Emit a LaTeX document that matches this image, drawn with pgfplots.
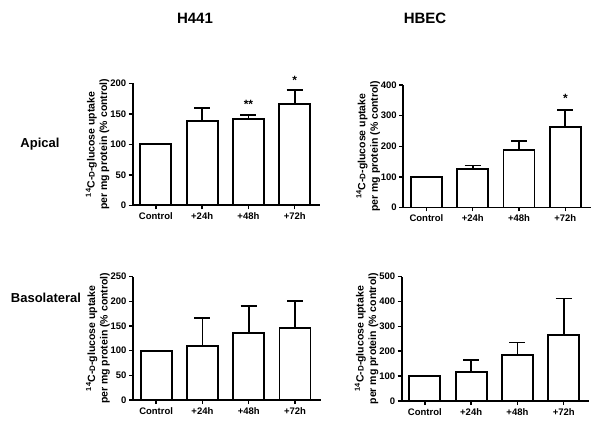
\documentclass[border=0pt]{standalone}
\usepackage{pgfplots}
\pgfplotsset{compat=1.18}
\usepackage{fontspec}
\setmainfont{Liberation Sans}

\pgfplotsset{
  gp/.style={
    scale only axis, width=187.5pt, anchor=south west,
    xmin=-0.5, xmax=3.55, ymin=0,
    axis x line=bottom, axis y line=left,
    axis line style={-, line width=1.7pt},
    xtick={0,1,2,3}, xticklabels={Control,+24h,+48h,+72h},
    tick align=outside, major tick length=4pt,
    tick style={line width=1.5pt, black},
    ticklabel style={font=\bfseries\fontsize{9.5}{10}\selectfont},
    yticklabel style={xshift=1pt},
    /pgf/number format/assume math mode=true,
    ylabel={\textsuperscript{14}C-{\fontsize{8}{8}\selectfont D}-glucose uptake\\per mg protein (\% control)},
    ylabel style={align=center, font=\bfseries\fontsize{10.5}{12.5}\selectfont, yshift=-6pt},
    ybar, bar width=0.67, bar shift=0pt,
    clip=false,
  },
  gpbar/.style={draw=black, fill=white, line width=1.8pt,
    error bars/.cd, y dir=plus, y explicit,
    error bar style={line width=1.8pt},
    error mark options={rotate=90, mark size=8pt, line width=1.8pt}},
}

\begin{document}
\begin{tikzpicture}
\useasboundingbox (0,0) rectangle (600pt,426pt);

\node[font=\bfseries\fontsize{15}{15}\selectfont] at (195pt,408pt) {H441};
\node[font=\bfseries\fontsize{15}{15}\selectfont] at (425pt,408pt) {HBEC};
\node[font=\bfseries\fontsize{13}{13}\selectfont] at (40pt,282pt) {Apical};
\node[font=\bfseries\fontsize{13}{13}\selectfont] at (46pt,128pt) {Basolateral};

% H441 apical
\begin{axis}[gp, at={(132.7pt,220.7pt)}, height=122pt, ymax=200, ytick={0,50,...,200}]
\addplot[gpbar] table[x=x, y=y, y error=e] {
x y e
0 100 0
1 138 22
2 141.5 6
3 166.5 22
};
\node[font=\bfseries\fontsize{12}{12}\selectfont] at (axis cs:2,165) {**};
\node[font=\bfseries\fontsize{12}{12}\selectfont] at (axis cs:3,205) {*};
\end{axis}

% HBEC apical
\begin{axis}[gp, at={(403.3pt,218.5pt)}, height=122.5pt, ymax=400, ytick={0,100,...,400}]
\addplot[gpbar] table[x=x, y=y, y error=e] {
x y e
0 100 0
1 127 10
2 187 30
3 263 55
};
\node[font=\bfseries\fontsize{12}{12}\selectfont] at (axis cs:3,356) {*};
\end{axis}

% H441 basolateral
\begin{axis}[gp, at={(133pt,26pt)}, height=123.3pt, ymax=250, ytick={0,50,...,250}]
\addplot[gpbar] table[x=x, y=y, y error=e] {
x y e
0 100 0
1 109 58
2 136 55
3 146 54
};
\end{axis}

% HBEC basolateral
\begin{axis}[gp, at={(401.7pt,25pt)}, height=124.5pt, ymax=500, ytick={0,100,...,500}]
\addplot[gpbar] table[x=x, y=y, y error=e] {
x y e
0 100 0
1 115 50
2 186 49
3 264 148
};
\end{axis}
\end{tikzpicture}
\end{document}
